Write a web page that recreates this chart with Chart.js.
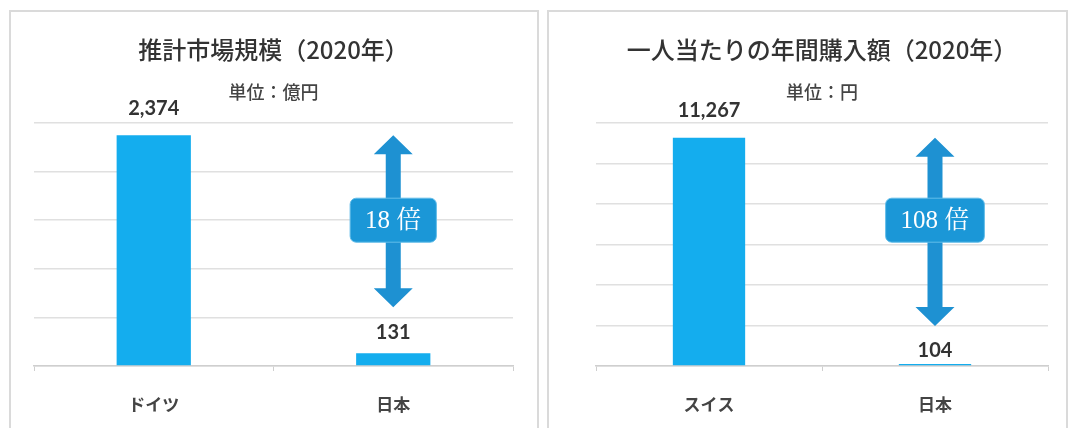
<!DOCTYPE html>
<html lang="ja">
<head>
<meta charset="utf-8">
<script src="https://cdn.jsdelivr.net/npm/chart.js@4.4.1/dist/chart.umd.min.js"></script>
<style>
  html, body { margin: 0; padding: 0; background: #fff; }
  body { width: 1070px; height: 428px; position: relative; overflow: hidden; }
  .panel { position: absolute; top: 10px; height: 460px; border: 2px solid #dadada; box-sizing: border-box; }
  #p1 { left: 9px; width: 530px; }
  #p2 { left: 547px; width: 521px; }
  .panel canvas { position: absolute; left: 0; top: 0; }
</style>
</head>
<body>
<div class="panel" id="p1"><canvas id="marketChart" width="526" height="440"></canvas></div>
<div class="panel" id="p2"><canvas id="spendChart" width="517" height="440"></canvas></div>
<script>
// Data
const marketLabels = ['ドイツ', '日本'];
const marketValues = [2374, 131];
const marketTicks = [0, 500, 1000, 1500, 2000, 2500];

const spendLabels = ['スイス', '日本'];
const spendValues = [11267, 104];
const spendTicks = [0, 2000, 4000, 6000, 8000, 10000, 12000];

const jpFont = '"Noto Sans CJK JP", "Noto Sans", sans-serif';

// value labels + double arrow with ratio box
const barNotes = {
  id: 'barNotes',
  afterDatasetsDraw(chart, args, opts) {
    const ctx = chart.ctx;
    const bars = chart.getDatasetMeta(0).data;
    const values = chart.data.datasets[0].data;
    const area = chart.chartArea;

    ctx.save();
    ctx.fillStyle = '#333';
    ctx.font = 'bold 20px Lato, ' + jpFont;
    ctx.textAlign = 'center';
    ctx.textBaseline = 'middle';
    bars.forEach((bar, i) => {
      ctx.fillText(values[i].toLocaleString('en-US'), bar.x, bar.y - opts.labelGap[i]);
    });

    // arrow from the big bar's height down to just above the small bar's label
    const ax = bars[1].x;
    const top = chart.scales.y.getPixelForValue(values[0]);
    const bottom = bars[1].y - opts.labelGap[1] - 25;
    const sw = 7.5, hw = 19.5, hl = 19;
    ctx.fillStyle = '#1e91d2';
    ctx.beginPath();
    ctx.moveTo(ax, top);
    ctx.lineTo(ax + hw, top + hl);
    ctx.lineTo(ax + sw, top + hl);
    ctx.lineTo(ax + sw, bottom - hl);
    ctx.lineTo(ax + hw, bottom - hl);
    ctx.lineTo(ax, bottom);
    ctx.lineTo(ax - hw, bottom - hl);
    ctx.lineTo(ax - sw, bottom - hl);
    ctx.lineTo(ax - sw, top + hl);
    ctx.lineTo(ax - hw, top + hl);
    ctx.closePath();
    ctx.fill();

    // ratio box
    const text = Math.round(values[0] / values[1]) + ' 倍';
    ctx.font = '25px "Liberation Serif", "Noto Serif CJK JP", ' + jpFont;
    const tw = ctx.measureText(text).width;
    const bw = tw + 30, bh = 44;
    const cy = area.top + (area.bottom - area.top) * 0.4;
    ctx.beginPath();
    ctx.roundRect(ax - bw / 2, cy - bh / 2, bw, bh, 6);
    ctx.fillStyle = '#1b97d7';
    ctx.fill();
    ctx.strokeStyle = '#63bde9';
    ctx.lineWidth = 1;
    ctx.stroke();
    ctx.fillStyle = '#fff';
    ctx.fillText(text, ax, cy + 1);
    ctx.restore();
  }
};

function makeChart(id, labels, values, ticks, title, unit, opts) {
  return new Chart(document.getElementById(id), {
    type: 'bar',
    data: {
      labels: labels,
      datasets: [{
        data: values,
        backgroundColor: '#14adee',
        barPercentage: opts.barPct,
        categoryPercentage: 1
      }]
    },
    options: {
      responsive: false,
      animation: false,
      layout: { padding: { left: opts.padLeft, right: opts.padRight, top: 0, bottom: 13 } },
      plugins: {
        legend: { display: false },
        tooltip: { enabled: false },
        title: {
          display: true,
          text: title,
          color: '#333',
          font: { family: jpFont, size: 24, weight: '500' },
          padding: { top: 23.6, bottom: 16.8 }
        },
        subtitle: {
          display: true,
          text: unit,
          color: '#444',
          font: { family: jpFont, size: 18, weight: '500' },
          padding: { top: 0, bottom: 20.2 }
        },
        barNotes: { labelGap: opts.labelGap }
      },
      scales: {
        x: {
          grid: { drawOnChartArea: false, tickLength: 5, color: '#cfcfcf', offset: true },
          border: { color: '#cfcfcf', width: 1.5 },
          ticks: { color: '#444', font: { family: jpFont, size: 17, weight: 'bold' }, padding: 23.8 }
        },
        y: {
          min: ticks[0],
          max: ticks[ticks.length - 1],
          ticks: { display: false, stepSize: ticks[1] - ticks[0] },
          grid: { color: '#e0e0e0', lineWidth: 1.5, drawTicks: false },
          border: { display: false }
        }
      }
    },
    plugins: [barNotes]
  });
}

makeChart('marketChart', marketLabels, marketValues, marketTicks,
  '推計市場規模（2020年）', '単位：億円',
  { barPct: 0.31, padLeft: 23, padRight: 24, labelGap: [27, 21] });

makeChart('spendChart', spendLabels, spendValues, spendTicks,
  '一人当たりの年間購入額（2020年）', '単位：円',
  { barPct: 0.32, padLeft: 47, padRight: 18, labelGap: [27, 13] });
</script>
</body>
</html>
